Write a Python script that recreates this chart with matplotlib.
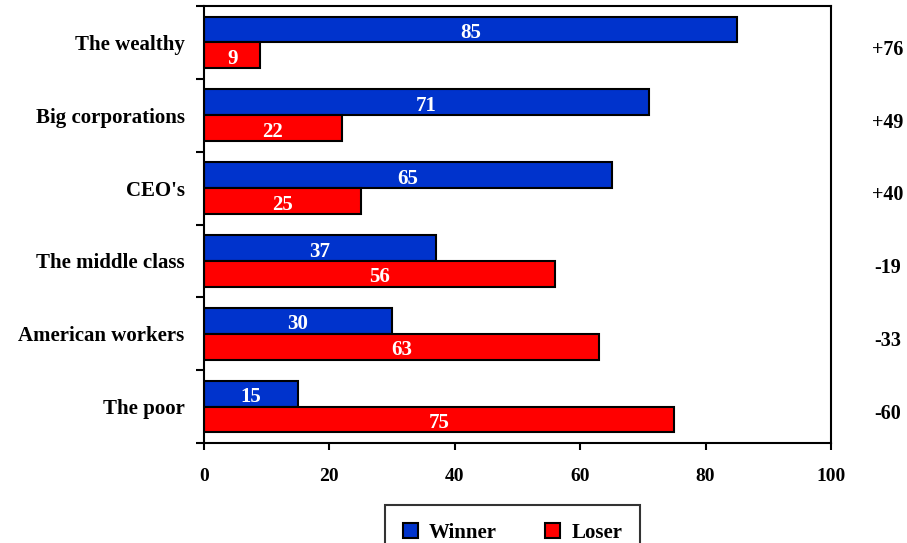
import numpy as np
import matplotlib
matplotlib.use("Agg")
import matplotlib.pyplot as plt
from matplotlib.patches import Patch

# data
groups = ["The wealthy", "Big corporations", "CEO's",
          "The middle class", "American workers", "The poor"]
winner = [85, 71, 65, 37, 30, 15]
loser = [9, 22, 25, 56, 63, 75]
x_ticks = [0, 20, 40, 60, 80, 100]

blue = "#0033CC"
red = "#FF0000"

plt.rcParams["font.family"] = ["Liberation Serif", "DejaVu Serif"]
plt.rcParams["font.weight"] = "bold"

fig = plt.figure(figsize=(9.07, 5.43), dpi=100)
ax = fig.add_axes([204 / 907, 1 - 443 / 543, (831 - 204) / 907, (443 - 6) / 543])

y = np.arange(len(groups))
h = 0.355
ax.barh(y - h / 2, winner, height=h, color=blue, edgecolor="black", linewidth=1.5)
ax.barh(y + h / 2, loser, height=h, color=red, edgecolor="black", linewidth=1.5)

# value labels in the middle of each bar
for i in range(len(groups)):
    ax.text(winner[i] / 2, i - h / 2 + 0.05, str(winner[i]), ha="center", va="center",
            color="white", fontsize=15, fontweight="bold")
    ax.text(loser[i] / 2, i + h / 2 + 0.05, str(loser[i]), ha="center", va="center",
            color="white", fontsize=15, fontweight="bold")

# net difference on the right
for i in range(len(groups)):
    net = winner[i] - loser[i]
    s = "+%d" % net if net > 0 else "-%d" % abs(net)
    ax.text(1.09, i + 0.1, s, transform=ax.get_yaxis_transform(), ha="center",
            va="center", fontsize=14.5, fontweight="bold")

ax.set_xlim(0, 100)
ax.set_ylim(len(groups) - 0.5, -0.5)
ax.set_xticks(x_ticks)
ax.set_xticklabels([str(v) for v in x_ticks], fontsize=14, fontweight="bold")
ax.tick_params(axis="x", direction="out", length=5, width=1.5, pad=13)

ax.set_yticks(np.arange(-0.5, len(groups), 1.0))
ax.set_yticklabels([])
ax.set_yticks(y, minor=True)
ax.set_yticklabels(groups, minor=True, fontsize=15, fontweight="bold")
ax.tick_params(axis="y", which="major", direction="out", length=6, width=1.5)
ax.tick_params(axis="y", which="minor", length=0, pad=14)

for sp in ax.spines.values():
    sp.set_linewidth(1.5)

handles = [Patch(facecolor=blue, edgecolor="black", linewidth=1.5),
           Patch(facecolor=red, edgecolor="black", linewidth=1.5)]
leg = fig.legend(handles, ["Winner", "Loser"], loc="upper left",
                 bbox_to_anchor=(385 / 907, 1 - 505 / 543), ncol=2,
                 prop={"family": "Liberation Serif", "weight": "bold", "size": 15},
                 handlelength=0.72, handleheight=0.72, handletextpad=0.55,
                 columnspacing=2.3, borderpad=0.85, borderaxespad=0,
                 fancybox=False, frameon=True)
leg.get_frame().set_edgecolor("black")
leg.get_frame().set_linewidth(1.5)

fig.savefig("out.png", dpi=100)
